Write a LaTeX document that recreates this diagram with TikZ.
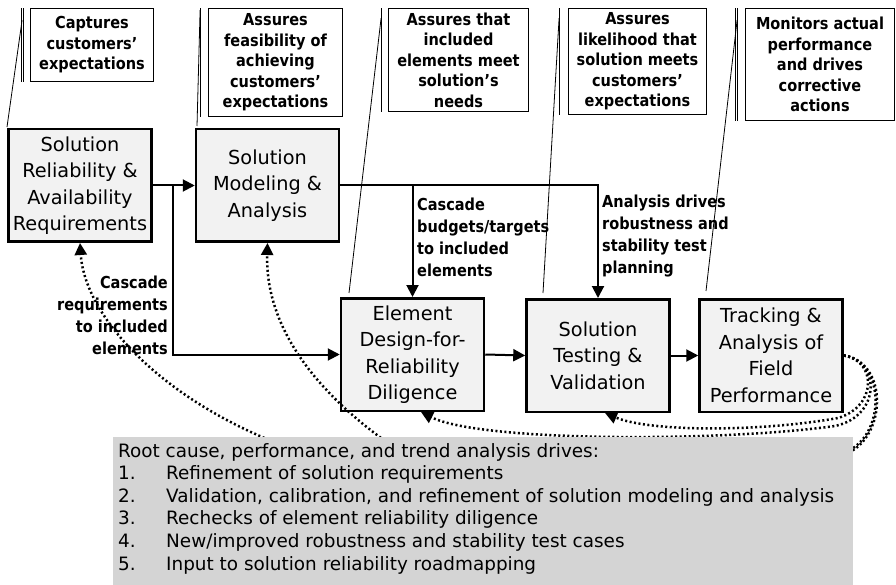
\documentclass[tikz,border=0pt]{standalone}
\usepackage{fontspec}
\setmainfont{DejaVu Sans}
\newfontfamily\boldfont[FakeStretch=0.88]{DejaVu Sans Bold}
\usetikzlibrary{arrows.meta}
\definecolor{boxfill}{RGB}{242,242,242}
\definecolor{notefill}{RGB}{212,212,212}
\tikzset{
  blk/.style={draw, line width=2.5pt, fill=boxfill, minimum width=143pt, minimum height=112.5pt,
    inner sep=0pt, align=center, font=\fontsize{19.3}{26.5}\selectfont},
  callout/.style={draw, line width=0.8pt, fill=white, inner sep=0pt, align=center,
    font=\boldfont\fontsize{16.5}{20.5}\selectfont},
  lbl/.style={inner sep=0pt, font=\boldfont\fontsize{16.5}{22}\selectfont},
  flow/.style={line width=2pt, -{Triangle[length=12pt,width=12pt]}},
  fb/.style={line width=2.5pt, dash pattern=on 2pt off 2.5pt, -{Triangle[length=12pt,width=12pt]}},
  lead/.style={line width=0.8pt},
}
\begin{document}
\begin{tikzpicture}[x=1pt,y=-1pt]
\useasboundingbox (0,0) rectangle (896,585);
\fill[white] (0,0) rectangle (896,585);

% main blocks
\node[blk] (B1) at (80,185.5) {Solution\\Reliability \&\\Availability\\Requirements};
\node[blk] (B2) at (267.5,185.5) {Solution\\Modeling \&\\Analysis};
\node[blk] (B3) at (412.5,354.5) {Element\\Design-for-\\Reliability\\Diligence};
\node[blk] (B4) at (598,355.5) {Solution\\Testing \&\\Validation};
\node[blk] (B5) at (771,355.5) {Tracking \&\\Analysis of\\Field\\Performance};

% callouts
\node[callout, minimum width=123pt, minimum height=73pt] (N1) at (92,45) {Captures\\customers’\\expectations};
\node[callout, minimum width=134pt, minimum height=108pt] (N2) at (275.5,62.5) {Assures\\feasibility of\\achieving\\customers’\\expectations};
\node[callout, minimum width=140pt, minimum height=103pt] (N3) at (458.5,60) {Assures that\\included\\elements meet\\solution’s\\needs};
\node[callout, minimum width=138pt, minimum height=106pt] (N4) at (637.5,61.5) {Assures\\likelihood that\\solution meets\\customers’\\expectations};
\node[callout, minimum width=149pt, minimum height=112pt] (N5) at (820,64.5) {Monitors actual\\performance\\and drives\\corrective\\actions};

% callout accent bars and leader lines
\coordinate (t1) at (7,127);
\coordinate (t2) at (197,126);
\coordinate (t3) at (349,293);
\coordinate (t4) at (543,293);
\coordinate (t5) at (706,291);
\draw[lead] ([xshift=-9pt]N1.north west) -- ([xshift=-9pt]N1.south west);
\draw[lead] ([xshift=-7pt]N1.north west) -- ([xshift=-7pt]N1.south west);
\draw[lead] ([xshift=-8pt,yshift=-12pt]N1.north west) -- (t1);
\draw[lead] ([xshift=-8pt]N2.north west) -- ([xshift=-8pt]N2.south west);
\draw[lead] ([xshift=-8pt,yshift=-2pt]N2.north west) -- (t2);
\draw[lead] ([xshift=-7pt]N3.north west) -- ([xshift=-7pt]N3.south west);
\draw[lead] ([xshift=-7pt,yshift=-10pt]N3.north west) -- (t3);
\draw[lead] ([xshift=-9pt]N4.north west) -- ([xshift=-9pt]N4.south west);
\draw[lead] ([xshift=-9pt,yshift=-10pt]N4.north west) -- (t4);
\draw[lead] ([xshift=-10pt]N5.north west) -- ([xshift=-10pt]N5.south west);
\draw[lead] ([xshift=-8pt]N5.north west) -- ([xshift=-8pt]N5.south west);
\draw[lead] ([xshift=-8pt,yshift=-12pt]N5.north west) -- (t5);

% flow connectors
\coordinate (j1) at (173,185.5);
\coordinate (j2) at (B3.north |- B2.east);
\draw[flow] (B1.east) -- (B2.west);
\draw[flow] (j1) |- (B3.west);
\draw[flow] (B2.east) -| (B4.north);
\draw[flow] (j2) -- (B3.north);
\draw[flow] (B3.east) -- (B4.west);
\draw[flow] (B4.east) -- (B5.west);

% connector labels
\node[lbl, anchor=east, align=right] (L1) at (168,315) {Cascade\\requirements\\to included\\elements};
\node[lbl, anchor=west, align=left] (L2) at (417,237) {Cascade\\budgets/targets\\to included\\elements};
\node[lbl, anchor=west, align=left] (L3) at (602,236) {Analysis drives\\robustness and\\stability test\\planning};

% feedback (dotted) connectors
\draw[fb] (B5.east) .. controls (887,362) and (887,432) .. (850,452) -- (310,455)
   .. controls (170,410) and (85,320) .. (B1.south);
\draw[fb] (B5.east) .. controls (884,362) and (886,430) .. (850,450) -- (410,458)
   .. controls (320,400) and (265,330) .. (B2.south);
\draw[fb] (B5.east) .. controls (880,360) and (882,416) .. (835,426)
   .. controls (720,442) and (480,442) .. ([xshift=8.5pt]B3.south);
\draw[fb] (B5.east) .. controls (876,360) and (878,406) .. (838,418)
   .. controls (760,432) and (650,432) .. ([xshift=7pt]B4.south);

% summary box
\node[fill=notefill, minimum width=740pt, minimum height=148pt, inner sep=0pt, anchor=north west] (note) at (113,437) {};
\node[anchor=north west, inner sep=0pt, font=\fontsize{18.4}{22.6}\selectfont] (notetext) at (118,441) {%
\begin{tabular}{@{}p{48pt}@{}l@{}}
\multicolumn{2}{@{}l@{}}{Root cause, performance, and trend analysis drives:}\\
1. & Refinement of solution requirements\\
2. & Validation, calibration, and refinement of solution modeling and analysis\\
3. & Rechecks of element reliability diligence\\
4. & New/improved robustness and stability test cases\\
5. & Input to solution reliability roadmapping
\end{tabular}};
\end{tikzpicture}
\end{document}
